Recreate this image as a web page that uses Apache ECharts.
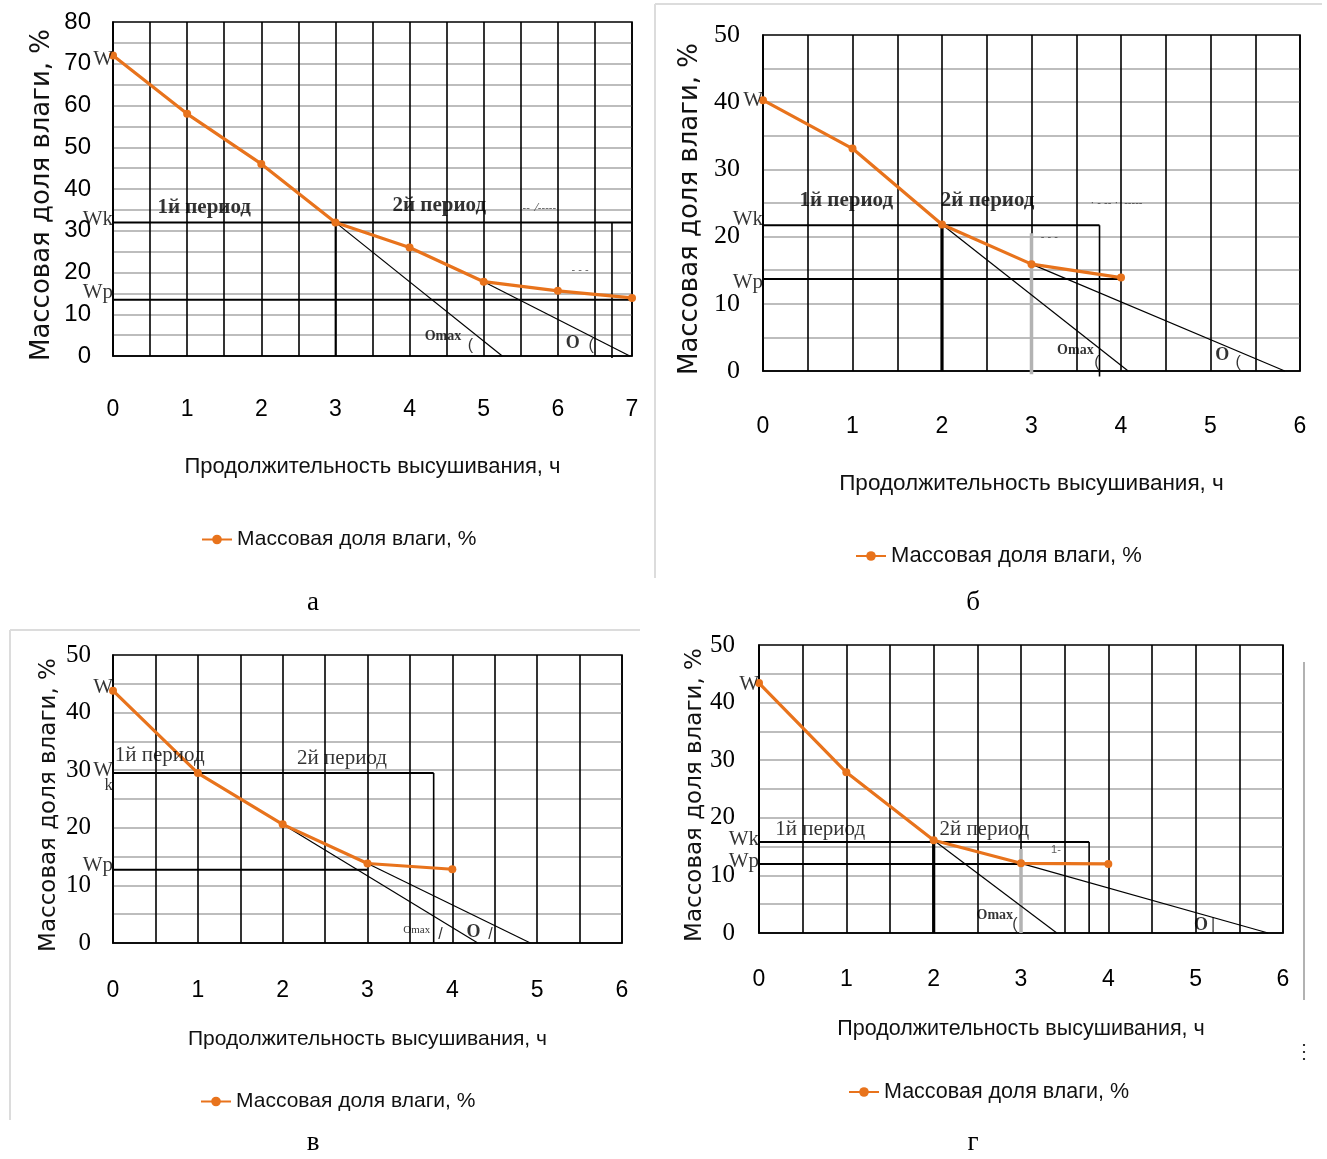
<!DOCTYPE html>
<html><head><meta charset="utf-8">
<script src="https://cdn.jsdelivr.net/npm/echarts@6/dist/echarts.min.js"></script>
<style>html,body{margin:0;padding:0;background:#fff}#c{width:1327px;height:1159px}</style>
</head><body><div id="c"></div>
<script>
// ---------- texts ----------
const seriesName = 'Массовая доля влаги, %';
const xTitle = 'Продолжительность высушивания, ч';
const yTitle = 'Массовая доля влаги, %';
const captions = ['а', 'б', 'в', 'г'];

// ---------- data: hours and moisture per panel ----------
const hoursA = [0, 1, 2, 3, 4, 5, 6, 7];
const moistureA = [72, 58, 46, 32, 26, 17.8, 15.6, 13.9];
const hoursB = [0, 1, 2, 3, 4];
const moistureB = [40.3, 33.1, 21.8, 15.9, 13.9];
const hoursV = [0, 1, 2, 3, 4];
const moistureV = [43.8, 29.5, 20.6, 13.8, 12.8];
const hoursG = [0, 1, 2, 3, 4];
const moistureG = [43.4, 27.9, 16.1, 12.1, 12.0];

// axis ranges
const xMaxes = [7, 6, 6, 6];
const yMaxes = [80, 50, 50, 50];

// construction lines: [kind, x1, y1, x2, y2]
const guidesA = [
  ['level', 0, 32, 7, 32], ['level', 0, 13.5, 7, 13.5],
  ['drop', 3, 32, 3, 0], ['drop', 6.73, 32, 6.73, -0.5],
  ['tangent', 3, 32, 5.25, 0], ['tangent', 5, 17.8, 6.97, 0]
];
const guidesB = [
  ['level', 0, 21.7, 3.76, 21.7], ['level', 0, 13.7, 4, 13.7],
  ['drop', 3.76, 21.7, 3.76, -0.8], ['thick', 2, 21.7, 2, 0],
  ['gray', 3, 20.5, 3, -0.5],
  ['tangent', 2, 21.8, 4.08, 0], ['tangent', 3, 15.9, 5.83, 0]
];
const guidesV = [
  ['level', 0, 29.5, 3.78, 29.5], ['level', 0, 12.7, 3, 12.7],
  ['drop', 3.78, 29.5, 3.78, 0],
  ['tangent', 2, 20.6, 4.3, 0], ['tangent', 3, 13.8, 4.92, 0]
];
const guidesG = [
  ['level', 0, 15.8, 3.78, 15.8], ['level', 0, 12.0, 4, 12.0],
  ['drop', 3.78, 15.8, 3.78, 0], ['thick', 2, 15.8, 2, 0],
  ['gray', 3, 14.6, 3, 0],
  ['tangent', 2, 16.1, 3.41, 0], ['tangent', 3, 12.1, 5.83, 0]
];

// annotations: [text, x, y, kind]
const notesA = [
  ['W', 0, 71, 'axis'], ['Wk', 0, 32.8, 'axis'], ['Wp', 0, 15.1, 'axis'],
  ['1й период', 1.23, 35.6, 'period'], ['2й период', 4.4, 36.0, 'period'],
  ['--  ⁄-----', 5.75, 35.4, 'noise'], ['- - -', 6.3, 20.5, 'noise'],
  ['Omax', 4.45, 4.6, 'angle'], ['O', 6.2, 3.0, 'angleBig'],
  ['(', 4.82, 2.4, 'arc'], ['(', 6.45, 2.4, 'arc']
];
const notesB = [
  ['W', 0, 40.2, 'axis'], ['Wk', 0, 22.5, 'axis'], ['Wp', 0, 13.2, 'axis'],
  ['1й период', 0.93, 25.3, 'period'], ['2й период', 2.51, 25.3, 'period'],
  ['· - -- ·  -----', 3.95, 25.0, 'noise'], ['- - -', 3.2, 19.9, 'noise'],
  ['Omax', 3.49, 3.1, 'angle'], ['O', 5.13, 2.4, 'angleBig'],
  ['(', 3.73, 1.2, 'arc'], ['(', 5.31, 1.2, 'arc']
];
const notesV = [
  ['W', 0, 44.3, 'axis'], ['W', 0, 30.0, 'axis'], ['k', 0, 27.4, 'axisSmall'],
  ['Wp', 0, 13.4, 'axis'],
  ['1й период', 0.55, 32.5, 'period'], ['2й период', 2.7, 32.1, 'period'],
  ['Omax', 3.58, 2.3, 'angleTiny'], ['O', 4.25, 1.9, 'angleBig'],
  ['/', 3.86, 1.5, 'arc'], ['/', 4.45, 1.5, 'arc']
];
const notesG = [
  ['W', 0, 43.2, 'axis'], ['Wk', 0, 16.3, 'axis'], ['Wp', 0, 12.5, 'axis'],
  ['1й период', 0.7, 17.9, 'period'], ['2й период', 2.58, 17.9, 'period'],
  ['1-', 3.4, 14.4, 'noise'],
  ['Omax', 2.7, 3.1, 'angle'], ['O', 5.06, 1.4, 'angleBig'],
  ['(', 2.93, 1.5, 'arc'], ['|', 5.2, 1.5, 'arc']
];

// ---------- layout & styles ----------
const SERIF = '"Liberation Serif", "Times New Roman", serif';
const SANS = '"Liberation Sans", Arial, sans-serif';
const ORANGE = '#E8731C';

const panels = [
  { hours: hoursA, values: moistureA, guides: guidesA, notes: notesA,
    grid: { left: 113, top: 22, width: 519, height: 334 },
    xMargin: 42, xNameGap: 100, yMargin: 22, yNameGap: 58, yTitleSize: 26, xTitleSize: 22,
    yLabelFont: SANS, yLabelSize: 24, legend: { left: 196, top: 524, size: 21 },
    caption: [313, 603], periodBold: true },
  { hours: hoursB, values: moistureB, guides: guidesB, notes: notesB,
    grid: { left: 763, top: 35, width: 537, height: 336 },
    xMargin: 44, xNameGap: 101, yMargin: 23, yNameGap: 60, yTitleSize: 26, xTitleSize: 22.5,
    yLabelFont: SERIF, yLabelSize: 26, legend: { left: 850, top: 540, size: 22 },
    caption: [973, 603], periodBold: true },
  { hours: hoursV, values: moistureV, guides: guidesV, notes: notesV,
    grid: { left: 113, top: 655, width: 509, height: 288 },
    xMargin: 36, xNameGap: 86, yMargin: 22, yNameGap: 52, yTitleSize: 23, xTitleSize: 21,
    yLabelFont: SERIF, yLabelSize: 25, legend: { left: 195, top: 1086, size: 21 },
    caption: [313, 1143], periodBold: false },
  { hours: hoursG, values: moistureG, guides: guidesG, notes: notesG,
    grid: { left: 759, top: 645, width: 524, height: 288 },
    xMargin: 35, xNameGap: 85, yMargin: 24, yNameGap: 52, yTitleSize: 23, xTitleSize: 21.5,
    yLabelFont: SERIF, yLabelSize: 25, legend: { left: 843, top: 1076, size: 21.5 },
    caption: [973, 1143], periodBold: false }
];

const guideStyle = {
  level: { color: '#000', width: 2 },
  drop: { color: '#000', width: 1.6 },
  thick: { color: '#000', width: 3.2 },
  tangent: { color: '#000', width: 1.2 },
  gray: { color: '#b3b3b3', width: 3.5 }
};

function noteLabel(kind, bold) {
  switch (kind) {
    case 'axis': return { position: 'left', distance: 0, fontFamily: SERIF, fontSize: 21, color: '#000' };
    case 'axisSmall': return { position: 'left', distance: 0, fontFamily: SERIF, fontSize: 17, color: '#000' };
    case 'period': return { position: 'inside', fontFamily: SERIF, fontSize: 21, fontWeight: bold ? 'bold' : 'normal', color: '#000' };
    case 'noise': return { position: 'inside', fontFamily: SANS, fontSize: 11, color: '#333' };
    case 'angle': return { position: 'inside', fontFamily: SERIF, fontSize: 14, fontWeight: 'bold', color: '#000' };
    case 'angleTiny': return { position: 'inside', fontFamily: SERIF, fontSize: 11, color: '#000' };
    case 'angleBig': return { position: 'inside', fontFamily: SERIF, fontSize: 18, fontWeight: 'bold', color: '#000' };
    case 'arc': return { position: 'inside', fontFamily: SANS, fontSize: 16, color: '#000' };
  }
}

const grids = [], xAxes = [], yAxes = [], series = [], legends = [], graphics = [];

panels.forEach((p, i) => {
  grids.push(Object.assign({ show: true, borderColor: '#000', borderWidth: 1.6,
    backgroundColor: '#fff', outerBoundsMode: 'none', containLabel: false }, p.grid));

  xAxes.push({
    type: 'value', gridIndex: i, min: 0, max: xMaxes[i], interval: 1,
    axisLine: { show: true, onZero: false, lineStyle: { color: '#000', width: 1.6 } },
    axisTick: { show: false },
    axisLabel: { margin: p.xMargin, fontFamily: SANS, fontSize: 23, color: '#000' },
    splitLine: { show: true, lineStyle: { color: '#000', width: 1.6 } },
    minorTick: { show: false, splitNumber: 2 },
    minorSplitLine: { show: true, lineStyle: { color: '#000', width: 1.6 } },
    name: xTitle, nameLocation: 'middle', nameGap: p.xNameGap,
    nameTextStyle: { fontFamily: SANS, fontSize: p.xTitleSize, color: '#111' }
  });

  yAxes.push({
    type: 'value', gridIndex: i, min: 0, max: yMaxes[i], interval: 10,
    axisLine: { show: true, onZero: false, lineStyle: { color: '#000', width: 1.6 } },
    axisTick: { show: false },
    axisLabel: { margin: p.yMargin, fontFamily: p.yLabelFont, fontSize: p.yLabelSize, color: '#000' },
    splitLine: { show: true, showMinLine: false, showMaxLine: false, lineStyle: { color: '#bdbdbd', width: 2 } },
    minorTick: { show: false, splitNumber: 2 },
    minorSplitLine: { show: true, lineStyle: { color: '#bdbdbd', width: 2 } },
    name: yTitle, nameLocation: 'middle', nameGap: p.yNameGap, nameRotate: 90,
    nameTextStyle: { fontFamily: '"DejaVu Sans", Verdana, sans-serif', fontSize: p.yTitleSize, color: '#111', padding: [0, 12, 0, 0] }
  });

  p.guides.forEach((g, k) => {
    series.push({
      type: 'line', name: 'guide' + i + '_' + k, xAxisIndex: i, yAxisIndex: i,
      data: [[g[1], g[2]], [g[3], g[4]]], symbol: 'none', silent: true, clip: false,
      lineStyle: guideStyle[g[0]], z: 3, animation: false
    });
  });

  series.push({
    type: 'line', name: seriesName, xAxisIndex: i, yAxisIndex: i,
    data: p.hours.map((h, k) => [h, p.values[k]]),
    symbol: 'circle', symbolSize: 8, showSymbol: true,
    lineStyle: { color: ORANGE, width: 3.2 }, itemStyle: { color: ORANGE },
    z: 5, animation: false
  });

  series.push({
    type: 'scatter', name: 'notes' + i, xAxisIndex: i, yAxisIndex: i, clip: false,
    symbol: 'circle', symbolSize: 0, silent: true, z: 6, animation: false,
    itemStyle: { color: 'rgba(0,0,0,0)' },
    label: { show: true, formatter: '{b}' },
    data: p.notes.map(n => ({ name: n[0], value: [n[1], n[2]], label: noteLabel(n[3], p.periodBold) }))
  });

  legends.push({
    left: p.legend.left, top: p.legend.top, data: [seriesName],
    itemWidth: 30, itemHeight: 12, itemGap: 5, selectedMode: false,
    textStyle: { fontFamily: SANS, fontSize: p.legend.size, color: '#111' }
  });

  graphics.push({
    type: 'text', x: p.caption[0], y: p.caption[1],
    style: { text: captions[i], fontFamily: SERIF, fontSize: 27, fill: '#000', align: 'center', verticalAlign: 'middle' }
  });
});

// light panel frames seen in the figure
graphics.push(
  { type: 'line', shape: { x1: 655, y1: 4, x2: 1322, y2: 4 }, style: { stroke: '#dcdcdc', lineWidth: 2 } },
  { type: 'line', shape: { x1: 655, y1: 4, x2: 655, y2: 578 }, style: { stroke: '#dcdcdc', lineWidth: 2 } },
  { type: 'line', shape: { x1: 10, y1: 630, x2: 640, y2: 630 }, style: { stroke: '#dcdcdc', lineWidth: 2 } },
  { type: 'line', shape: { x1: 10, y1: 630, x2: 10, y2: 1120 }, style: { stroke: '#dcdcdc', lineWidth: 2 } },
  { type: 'line', shape: { x1: 1304, y1: 662, x2: 1304, y2: 1000 }, style: { stroke: '#999', lineWidth: 1.5 } },
  { type: 'text', x: 1304, y: 1052, style: { text: '⋮', fontFamily: SANS, fontSize: 20, fill: '#333', align: 'center', verticalAlign: 'middle' } }
);

const chart = echarts.init(document.getElementById('c'), null, { renderer: 'canvas' });
chart.setOption({
  backgroundColor: '#fff',
  animation: false,
  grid: grids, xAxis: xAxes, yAxis: yAxes,
  legend: legends, series: series, graphic: graphics
});
</script>
</body></html>
